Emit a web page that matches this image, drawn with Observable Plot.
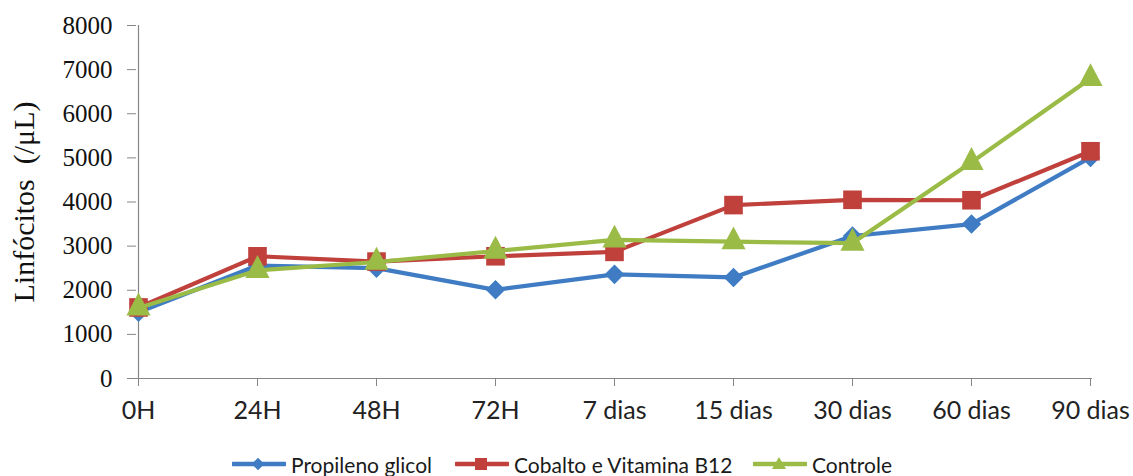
<!DOCTYPE html>
<html>
<head>
<meta charset="utf-8">
<script src="https://cdn.jsdelivr.net/npm/d3@7"></script>
<script src="https://cdn.jsdelivr.net/npm/@observablehq/plot@0.6"></script>
<style>
  body { margin: 0; background: #fff; }
  #wrap { position: relative; width: 1133px; }
  #legend { position: relative; height: 36px; font-family: Lato, "Open Sans", sans-serif; font-size: 21px; color: #1a1a1a; }
  .item { position: absolute; top: 6px; height: 36px; display: flex; align-items: center; }
  .item svg { margin-right: 5px; }
</style>
</head>
<body>
<div id="wrap"></div>
<script>
// Sampling times and lymphocyte counts (/µL) for each treatment group
const categories = ["0H", "24H", "48H", "72H", "7 dias", "15 dias", "30 dias", "60 dias", "90 dias"];
const propileno = [1500, 2560, 2500, 2010, 2360, 2290, 3230, 3500, 5010];
const cobalto = [1610, 2770, 2650, 2770, 2870, 3930, 4050, 4040, 5150];
const controle = [1600, 2450, 2640, 2890, 3140, 3100, 3070, 4900, 6800];
const seriesNames = ["Propileno glicol", "Cobalto e Vitamina B12", "Controle"];
const yTicks = [0, 1000, 2000, 3000, 4000, 5000, 6000, 7000, 8000];

const colors = ["#3f7cc4", "#c0403c", "#9bbb47"];

// Upright triangle slightly taller than equilateral, centred on its centroid
const triangleSymbol = {
  draw(context, size) {
    const h = Math.sqrt(size * 1.9), w = h * 1.05;
    context.moveTo(0, -h * 2 / 3);
    context.lineTo(w / 2, h / 3);
    context.lineTo(-w / 2, h / 3);
    context.closePath();
  }
};

const table = (values) => categories.map((c, i) => ({cat: c, value: values[i]}));
const data = [table(propileno), table(cobalto), table(controle)];

const markers = [
  {symbol: "square", r: 7.8, rotate: 45},
  {symbol: "square", r: 10.5, rotate: 0},
  {symbol: triangleSymbol, r: 9.4, rotate: 0}
];

const axisColor = "#868686";

const marks = [
  Plot.ruleY([0], {stroke: axisColor, strokeWidth: 1.2}),
  Plot.ruleX([categories[0]], {y1: 0, y2: 8000, stroke: axisColor, strokeWidth: 1.2}),
  Plot.axisY({
    ticks: yTicks, tickSize: 9, tickPadding: 15, stroke: axisColor, label: null,
    fontFamily: "Liberation Serif", fontSize: 25, fill: "#111", tickFormat: d => String(d)
  }),
  // Axis title only (no ticks)
  Plot.axisY({
    ticks: [], label: "Linfócitos  (/μL)", labelAnchor: "center", labelArrow: "none",
    labelOffset: 124, fontFamily: "Liberation Serif", fontSize: 30, fill: "#111"
  }),
  Plot.axisX({
    tickSize: 8, tickPadding: 15, stroke: axisColor, label: null,
    fontFamily: "Lato", fontSize: 25, fill: "#222"
  })
];

data.forEach((d, i) => {
  marks.push(Plot.line(d, {x: "cat", y: "value", stroke: colors[i], strokeWidth: 4.2}));
  marks.push(Plot.dot(d, {
    x: "cat", y: "value", fill: colors[i], stroke: "none",
    symbol: markers[i].symbol, r: markers[i].r, rotate: markers[i].rotate
  }));
});

const chart = Plot.plot({
  width: 1133,
  height: 440,
  marginLeft: 136,
  marginRight: 41,
  marginTop: 25,
  marginBottom: 62,
  x: {type: "point", domain: categories, padding: 0},
  y: {domain: [0, 8000]},
  style: {background: "#fff", overflow: "visible"},
  marks
});

const wrap = document.getElementById("wrap");
wrap.appendChild(chart);

// Legend below the chart
const legend = document.createElement("div");
legend.id = "legend";
const lefts = [232, 455, 753];
seriesNames.forEach((name, i) => {
  const item = document.createElement("div");
  item.className = "item";
  item.style.left = lefts[i] + "px";
  let marker;
  if (i === 0) marker = `<rect x="21.5" y="4.5" width="9" height="9" transform="rotate(45 26 9)" fill="${colors[i]}"/>`;
  else if (i === 1) marker = `<rect x="20" y="3" width="12" height="12" fill="${colors[i]}"/>`;
  else marker = `<path d="M26 2 L33 14 L19 14 Z" fill="${colors[i]}"/>`;
  item.innerHTML = `<svg width="54" height="18" viewBox="0 0 54 18"><line x1="1" x2="53" y1="9" y2="9" stroke="${colors[i]}" stroke-width="4.5" stroke-linecap="round"/>${marker}</svg><span>${name}</span>`;
  legend.appendChild(item);
});
wrap.appendChild(legend);
</script>
</body>
</html>
